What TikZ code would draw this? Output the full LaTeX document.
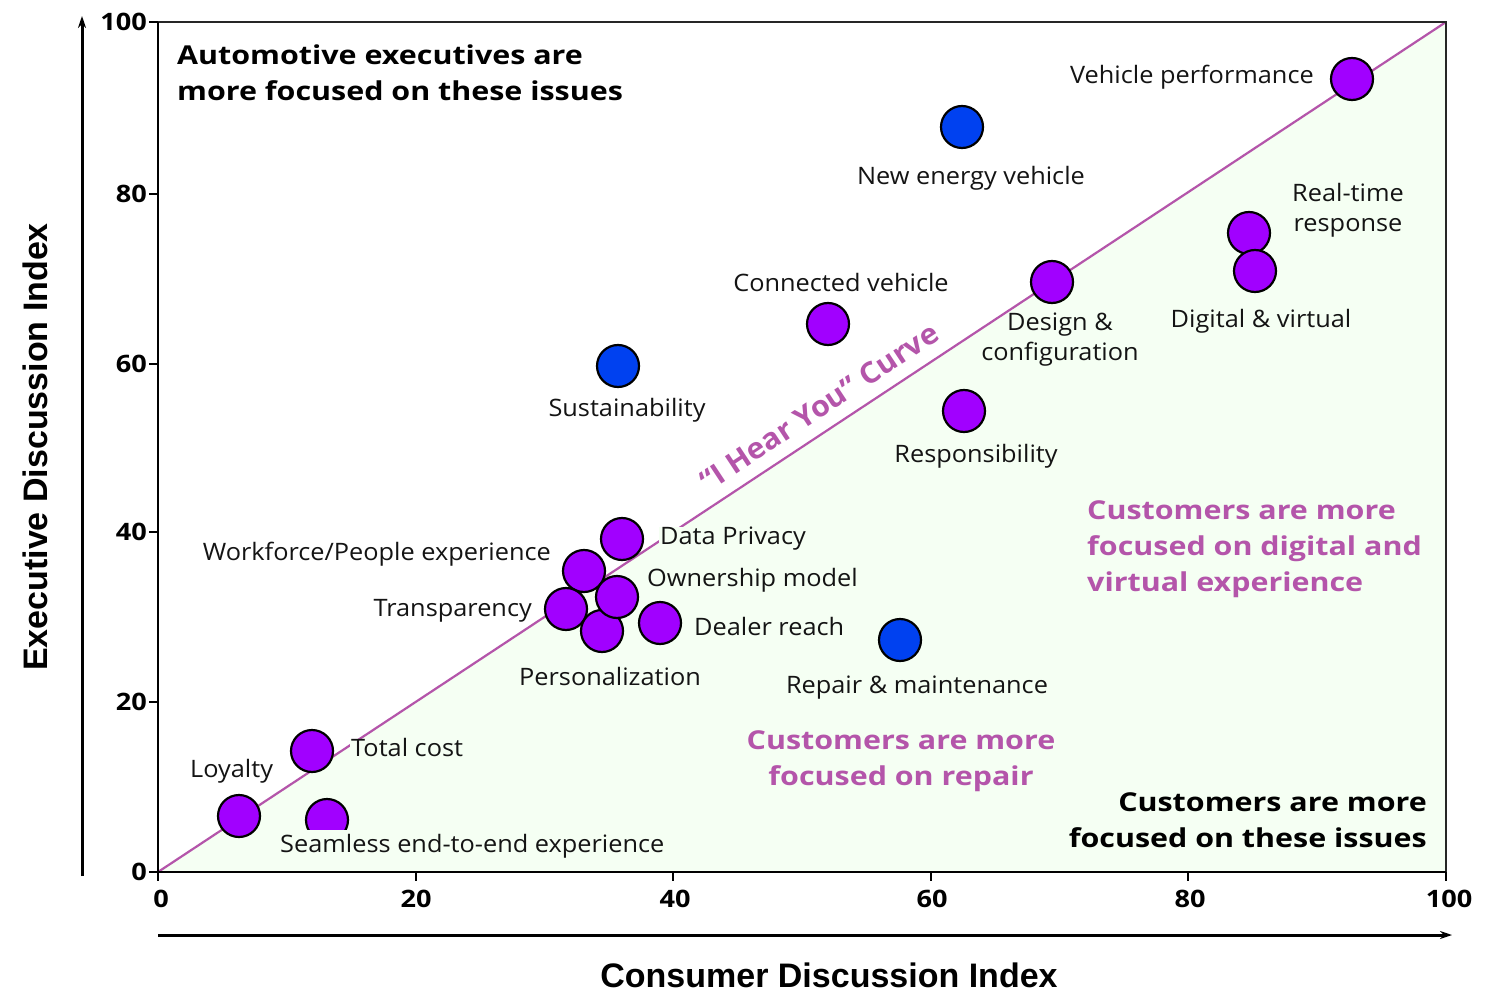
\documentclass[tikz,border=0pt]{standalone}
\usepackage{fontspec}
\setmainfont{Open Sans}
\newfontfamily\labfont[FakeStretch=1.055]{Open Sans}
\newfontfamily\ttlfont[FakeStretch=1.17]{Open Sans}
\newfontfamily\tickfont[FakeStretch=1.13]{Open Sans}
\newfontfamily\curvefont[FakeStretch=1.05]{Open Sans}
\newfontfamily\axisfont{Liberation Sans}
\usetikzlibrary{arrows.meta}
\definecolor{bggreen}{HTML}{F5FFF3}
\definecolor{vio}{HTML}{A100FF}
\definecolor{blu}{HTML}{0041F0}
\definecolor{mag}{HTML}{B455AA}
\tikzset{
  dot/.style={circle, draw=black, line width=2.2pt, minimum size=42pt, inner sep=0pt},
  pdot/.style={dot, fill=vio},
  bdot/.style={dot, fill=blu},
  lab/.style={font=\labfont\fontsize{24}{30}\selectfont, inner sep=1pt, text=black!92, text height=17pt, text depth=0pt},
  mlab/.style={font=\labfont\fontsize{24}{30}\selectfont, inner sep=1pt, text=black!92, align=center},
  ttl/.style={font=\ttlfont\fontsize{26}{36}\selectfont\bfseries, inner sep=0pt},
  tick/.style={font=\tickfont\fontsize{24}{28}\selectfont\bfseries, inner sep=0pt, text height=17pt, text depth=0pt},
  axl/.style={font=\axisfont\fontsize{34}{40}\selectfont\bfseries, inner sep=0pt},
  axarrow/.style={line width=3pt, -{Stealth[length=12pt,width=8pt]}},
}
\begin{document}
\begin{tikzpicture}[x=1pt,y=-1pt]
\useasboundingbox (0,0) rectangle (1496,992);
\fill[white] (0,0) rectangle (1496,992);
% regions
\coordinate (o) at (158,872);
\coordinate (tr) at (1446,22);
\coordinate (tl) at (158,22);
\coordinate (br) at (1446,872);
\fill[bggreen] (o) -- (tr) -- (br) -- cycle;
\draw[mag, line width=2.2pt] (o) -- (tr);
\draw[line width=1.3pt, black!85] (tl) -- (tr) -- (br);
\draw[line width=1.3pt] (tl) -- (o) -- (br);
% y ticks
\foreach \v/\yy in {0/872,20/702,40/532,60/364,80/194,100/22}{
  \draw[line width=1.2pt] (149,\yy) -- (158,\yy);
  \node[tick, anchor=east] (yt\v) at (147,\yy) {\v};
}
% x ticks
\foreach \v/\xx in {0/158,20/416,40/673,60/931,80/1188,100/1446}{
  \draw[line width=1.2pt] (\xx,872) -- (\xx,881);
}
\node[tick] (xt0) at (161,899) {0};
\node[tick] (xt20) at (416,899) {20};
\node[tick] (xt40) at (675,899) {40};
\node[tick] (xt60) at (932,899) {60};
\node[tick] (xt80) at (1190,899) {80};
\node[tick] (xt100) at (1449,899) {100};
% axis arrows
\coordinate (ya0) at (82,876);
\coordinate (ya1) at (82,16);
\coordinate (xa0) at (158,935);
\coordinate (xa1) at (1452,935);
\draw[axarrow] (ya0) -- (ya1);
\draw[axarrow] (xa0) -- (xa1);
\node[axl, rotate=90] (ylab) at (35,447) {Executive Discussion Index};
\node[axl] (xlab) at (829,975) {Consumer Discussion Index};
% region titles
\node[ttl, anchor=west, align=left] (tA) at (177,73) {Automotive executives are\\more focused on these issues};
\node[ttl, anchor=east, align=right] (tC) at (1427,820) {Customers are more\\focused on these issues};
\node[ttl, anchor=west, align=left, text=mag] (tD) at (1087,549) {Customers are more\\focused on digital and\\virtual experience};
\node[ttl, align=center, text=mag] (tR) at (901,761) {Customers are more\\focused on repair};
\node[font=\curvefont\fontsize{29}{34}\selectfont\bfseries, text=mag, rotate=33.42, inner sep=0pt] (curve) at (819,407) {“I Hear You” Curve};
% dots
\node[pdot] (vp) at (1352,79) {};
\node[bdot] (nev) at (962,127) {};
\node[pdot] (rt) at (1249,233) {};
\node[pdot] (dv) at (1255,271) {};
\node[pdot] (dc) at (1052,282) {};
\node[pdot] (cv) at (828,324) {};
\node[bdot] (su) at (618,366) {};
\node[pdot] (re) at (964,411) {};
\node[pdot] (dp) at (622,539) {};
\node[pdot] (wf) at (584,571) {};
\node[pdot] (tp) at (566,609) {};
\node[pdot] (pe) at (602,631) {};
\node[pdot] (om) at (617,597) {};
\node[pdot] (dr) at (660,623) {};
\node[bdot] (rm) at (900,640) {};
\node[pdot] (tc) at (312,751) {};
\node[pdot] (ly) at (239,816) {};
\begin{scope}
\clip (290,780) rectangle (370,829);
\node[pdot] (se) at (327,820) {};
\end{scope}
% labels
\node[lab, anchor=east] (lvp) at (1315,75) {Vehicle performance};
\node[lab] (lnev) at (971,176) {New energy vehicle};
\node[mlab] (lrt) at (1348,210) {Real-time\\response};
\node[lab] (ldv) at (1261,319) {Digital \& virtual};
\node[mlab] (ldc) at (1060,340) {Design \&\\configuration};
\node[lab] (lcv) at (841,283) {Connected vehicle};
\node[lab] (lsu) at (627,408) {Sustainability};
\node[lab] (lre) at (976,454) {Responsibility};
\node[lab, anchor=west, fill=bggreen] (ldp) at (659,536) {Data Privacy};
\node[lab, anchor=east] (lwf) at (552,552) {Workforce/People experience};
\node[lab, anchor=west] (lom) at (646,578) {Ownership model};
\node[lab, anchor=east] (ltp) at (533,608) {Transparency};
\node[lab, anchor=west] (ldr) at (693,627) {Dealer reach};
\node[lab] (lpe) at (610,677) {Personalization};
\node[lab] (lrm) at (917,685) {Repair \& maintenance};
\node[lab, anchor=west, fill=bggreen] (ltc) at (350,748) {Total cost};
\node[lab, anchor=west] (lly) at (189,769) {Loyalty};
\node[lab, anchor=west] (lse) at (279,844) {Seamless end-to-end experience};
\end{tikzpicture}
\end{document}
